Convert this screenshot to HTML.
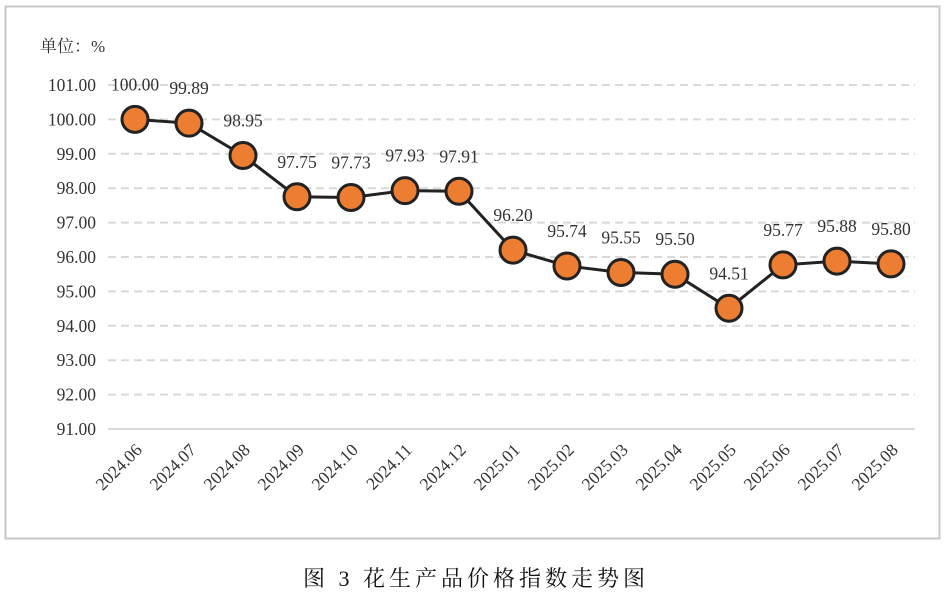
<!DOCTYPE html>
<html><head><meta charset="utf-8"><style>
body{margin:0;background:#fff;}
svg text{font-family:"Liberation Serif","Noto Serif CJK SC",serif;fill:#333;}
</style></head><body>
<svg width="948" height="596">
<rect x="5.5" y="6.5" width="934" height="532" fill="none" stroke="#c8c8c8" stroke-width="2"/>
<text x="40" y="52" font-size="17">单位：%</text>
<g id="grid"></g><g id="yt"></g><g id="xt"></g><g id="series"></g>
<text x="476" y="586" font-size="22" letter-spacing="4" text-anchor="middle" style="fill:#111">图 3  花生产品价格指数走势图</text>
</svg>
<script>
const categories=["2024.06","2024.07","2024.08","2024.09","2024.10","2024.11","2024.12","2025.01","2025.02","2025.03","2025.04","2025.05","2025.06","2025.07","2025.08"];
const values=[100.00,99.89,98.95,97.75,97.73,97.93,97.91,96.20,95.74,95.55,95.50,94.51,95.77,95.88,95.80];
const yTicks=[91,92,93,94,95,96,97,98,99,100,101];
const NS="http://www.w3.org/2000/svg";
const y=v=>429-(v-91)*34.4;
const x=i=>135+i*54;
function mk(t,a,p){const e=document.createElementNS(NS,t);for(const k in a)e.setAttribute(k,a[k]);document.getElementById(p).appendChild(e);return e;}
yTicks.forEach(t=>{
 const l=mk('line',{x1:108,x2:915,y1:y(t),y2:y(t),stroke:'#d9d9d9','stroke-width':2,'stroke-dasharray':t===91?'none':'8,5'},'grid');
 
 
 const tx=mk('text',{x:96,y:y(t)+6,'font-size':17.5,'text-anchor':'end'},'yt');
 tx.textContent=t.toFixed(2);
 
 
});
categories.forEach((c,i)=>{
 const tx=mk('text',{x:x(i)+8,y:451,'font-size':17.5,'text-anchor':'end',transform:`rotate(-45 ${x(i)+8} 451)`},'xt');
 tx.textContent=c;
 
 
});
const pl=mk('polyline',{points:values.map((v,i)=>x(i)+','+y(v)).join(' '),fill:'none',stroke:'#222','stroke-width':3},'series');


values.forEach((v,i)=>{
 const c=mk('circle',{cx:x(i),cy:y(v),r:13,fill:'#ED7D31',stroke:'#222','stroke-width':3},'series');
 
 
 const t=mk('text',{x:x(i),y:y(v)-29,'font-size':17.5,'text-anchor':'middle'},'series');
 t.textContent=v.toFixed(2);
 
 
});
</script>
</body></html>
